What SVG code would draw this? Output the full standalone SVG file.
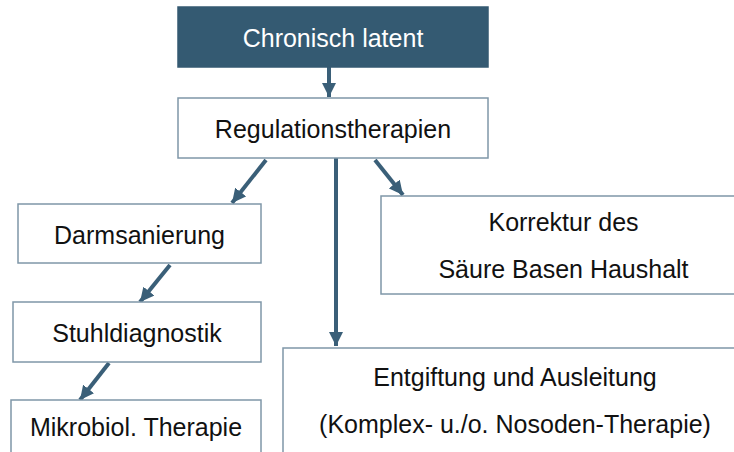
<svg xmlns="http://www.w3.org/2000/svg" width="734" height="452" viewBox="0 0 734 452">
<style>
.box{fill:#ffffff;stroke:#7f97a8;stroke-width:1.5}
.dark{fill:#345a72;stroke:#345a72;stroke-width:1.5}
.t{font-family:"Liberation Sans",Arial,sans-serif;font-size:25px;fill:#111111;text-anchor:middle}
.w{fill:#ffffff}
.c{stroke:#3a5f78;stroke-width:4;fill:none}
</style>
<defs>
<marker id="ah" markerUnits="userSpaceOnUse" markerWidth="16" markerHeight="14" refX="14" refY="7" orient="auto">
<path d="M0,0 L14,7 L0,14 Z" fill="#3a5f78"/>
</marker>
</defs>
<rect width="734" height="452" fill="#ffffff"/>
<g id="connectors">
<line class="c" x1="329" y1="67" x2="329" y2="97" marker-end="url(#ah)"/>
<line class="c" x1="266" y1="160" x2="232" y2="203" marker-end="url(#ah)"/>
<line class="c" x1="336" y1="158" x2="336" y2="346" marker-end="url(#ah)"/>
<line class="c" x1="375" y1="160" x2="403" y2="195" marker-end="url(#ah)"/>
<line class="c" x1="170" y1="265" x2="140" y2="302" marker-end="url(#ah)"/>
<line class="c" x1="109" y1="363" x2="80" y2="400" marker-end="url(#ah)"/>
</g>
<g id="chronisch">
<rect class="dark" x="178" y="7" width="310" height="60"/>
<text class="t w" x="333" y="46.5">Chronisch latent</text>
</g>
<g id="regulation">
<rect class="box" x="178" y="98" width="310" height="60"/>
<text class="t" x="333" y="138">Regulationstherapien</text>
</g>
<g id="darm">
<rect class="box" x="18" y="204" width="243" height="59"/>
<text class="t" x="139.5" y="244">Darmsanierung</text>
</g>
<g id="stuhl">
<rect class="box" x="13" y="302" width="248" height="60"/>
<text class="t" x="137" y="342">Stuhldiagnostik</text>
</g>
<g id="mikro">
<rect class="box" x="11" y="400" width="250" height="70"/>
<text class="t" x="136" y="436">Mikrobiol. Therapie</text>
</g>
<g id="korrektur">
<rect class="box" x="381" y="196" width="366" height="98"/>
<text class="t" x="563.5" y="231">Korrektur des</text>
<text class="t" x="563.5" y="278">Säure Basen Haushalt</text>
</g>
<g id="entgiftung">
<rect class="box" x="283" y="348" width="464" height="120"/>
<text class="t" x="515" y="386">Entgiftung und Ausleitung</text>
<text class="t" x="515" y="433">(Komplex- u./o. Nosoden-Therapie)</text>
</g>
</svg>
